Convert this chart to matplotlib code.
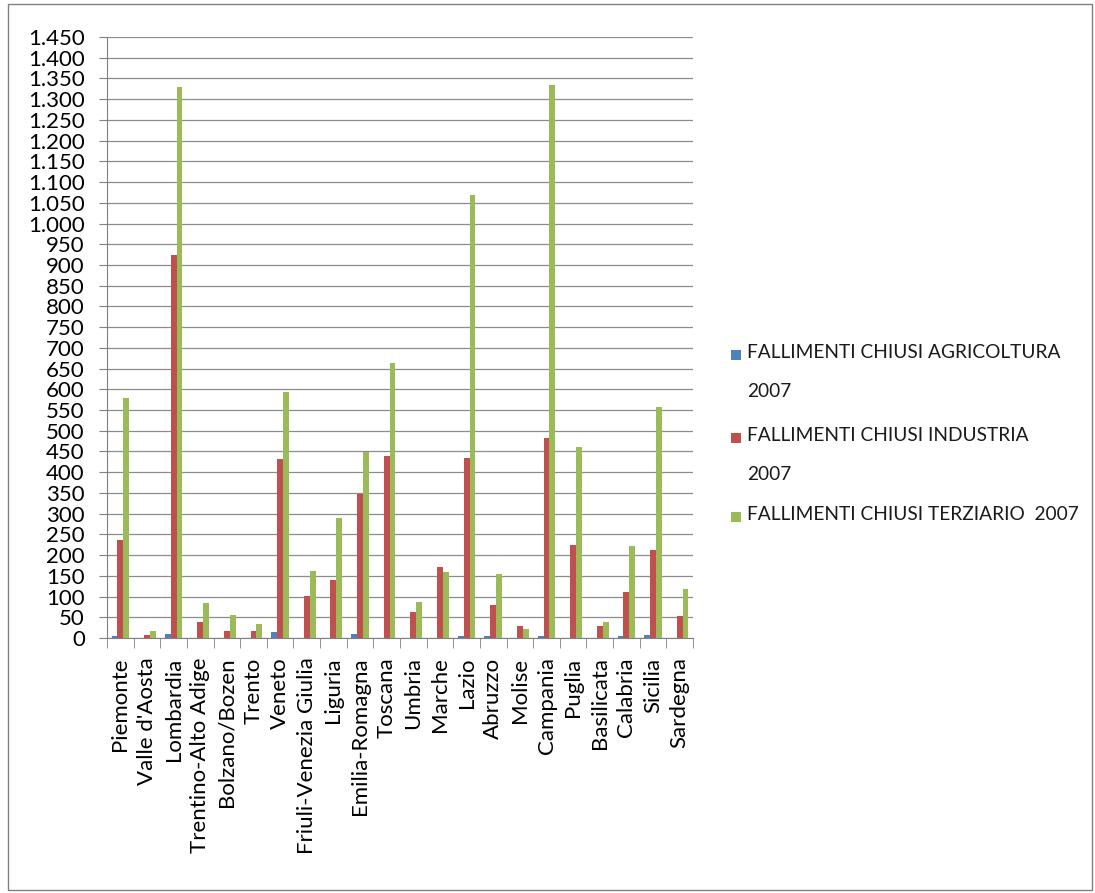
import matplotlib
matplotlib.use("Agg")
import matplotlib.pyplot as plt
import numpy as np
from matplotlib.patches import Rectangle

plt.rcParams['font.family'] = ['Lato', 'DejaVu Sans']

regions = ["Piemonte", "Valle d'Aosta", "Lombardia", "Trentino-Alto Adige", "Bolzano/Bozen",
           "Trento", "Veneto", "Friuli-Venezia Giulia", "Liguria", "Emilia-Romagna", "Toscana",
           "Umbria", "Marche", "Lazio", "Abruzzo", "Molise", "Campania", "Puglia", "Basilicata",
           "Calabria", "Sicilia", "Sardegna"]
agricoltura = [6, 0, 10, 0, 0, 0, 14, 0, 0, 10, 0, 0, 0, 5, 5, 0, 5, 0, 0, 6, 8, 0]
industria = [236, 8, 925, 38, 18, 17, 432, 102, 139, 348, 439, 62, 172, 435, 80, 30, 482, 224, 30, 110, 212, 54]
terziario = [578, 16, 1330, 84, 56, 33, 594, 162, 289, 448, 664, 86, 160, 1070, 154, 22, 1335, 462, 38, 222, 558, 118]
series_labels = ["FALLIMENTI CHIUSI AGRICOLTURA\n2007", "FALLIMENTI CHIUSI INDUSTRIA\n2007",
                 "FALLIMENTI CHIUSI TERZIARIO  2007"]
colors = ["#4F81BD", "#C0504D", "#9BBB59"]
yticks = list(range(0, 1451, 50))

W, H = 1095, 893
fig = plt.figure(figsize=(W / 100, H / 100), dpi=100)
fig.patches.append(Rectangle((8/W, 3/H), 1084/W, 886/H, transform=fig.transFigure,
                             fill=False, edgecolor="#808080", linewidth=1.0))
ax = fig.add_axes([107/W, 1 - 638/H, (693-107)/W, (638-37)/H])

x = np.arange(len(regions))
w = 0.22
for i, (vals, c, lab) in enumerate(zip([agricoltura, industria, terziario], colors, series_labels)):
    ax.bar(x + (i - 1) * w, vals, width=w, color=c, label=lab, zorder=3)

ax.set_xlim(-0.5, len(regions) - 0.5)
ax.set_ylim(0, 1450)
ax.set_yticks(yticks)
ax.set_yticklabels([f"{v:,}".replace(",", ".") for v in yticks], fontsize=16)
ax.yaxis.grid(True, color="#8c8c8c", linewidth=0.9, zorder=0)
ax.set_xticks(x)
ax.set_xticklabels(regions, rotation=90, fontsize=16)
ax.set_xticks(np.arange(-0.5, len(regions)), minor=True)
ax.tick_params(axis='x', which='major', length=0, pad=14)
ax.tick_params(axis='x', which='minor', length=7, color="#808080")
ax.tick_params(axis='y', length=6, color="#808080", pad=10)
for s in ['top', 'right']:
    ax.spines[s].set_visible(False)
ax.spines['left'].set_color("#808080")
ax.spines['bottom'].set_color("#808080")

# legend drawn manually (square aligned with first text line)
first_line_centers = [355, 438, 517]
for lab, c, yc in zip(series_labels, colors, first_line_centers):
    fig.patches.append(Rectangle((731/W, 1 - (yc + 5)/H), 10/W, 10/H, transform=fig.transFigure,
                                 facecolor=c, edgecolor='none'))
    fig.text(747/W, 1 - (yc - 11)/H, lab, fontsize=13.8, va='top', ha='left',
             linespacing=2.6, color="#1a1a1a")

fig.savefig("out.png", dpi=100)
